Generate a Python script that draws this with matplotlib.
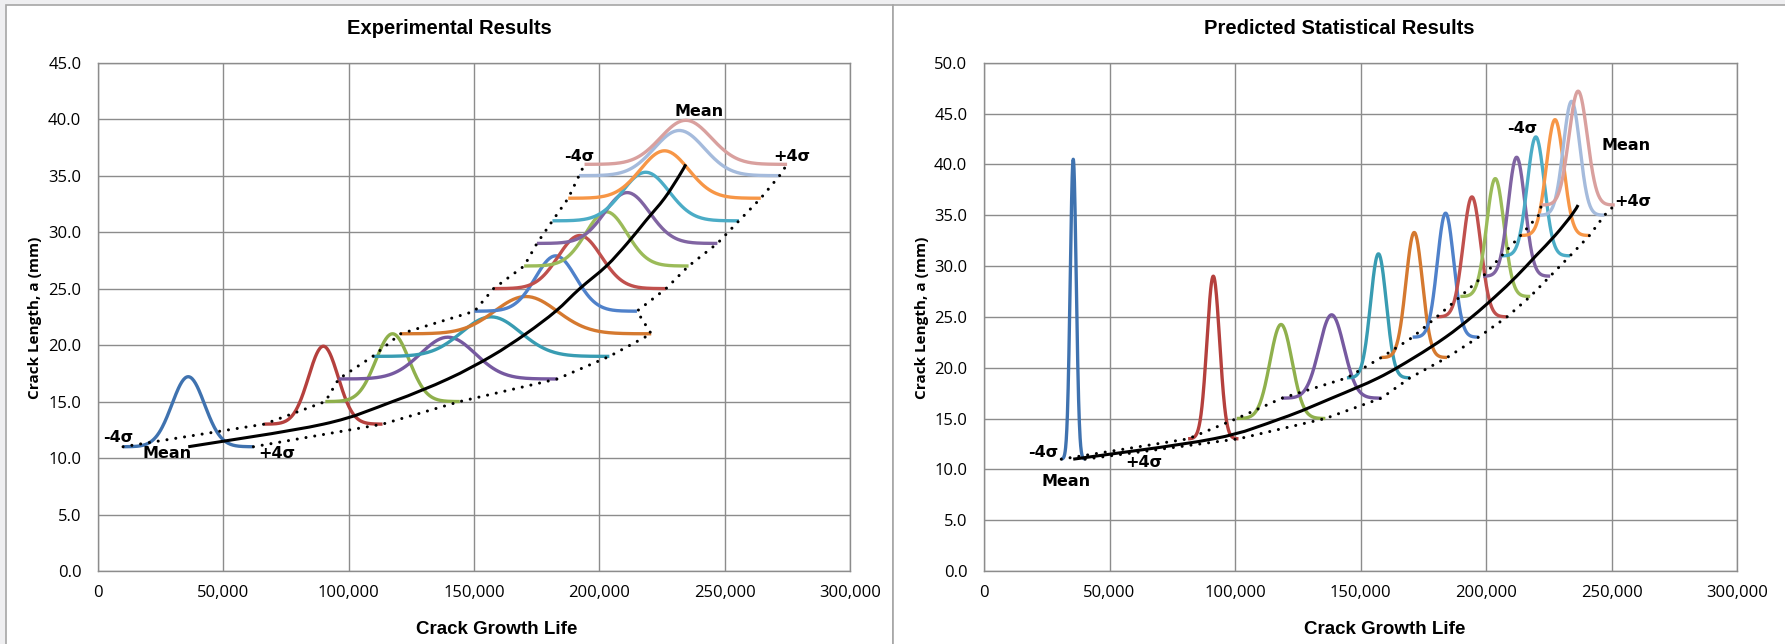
import numpy as np
import matplotlib.pyplot as plt
from matplotlib.patches import Rectangle, PathPatch
from matplotlib.path import Path
from matplotlib.ticker import FuncFormatter, MultipleLocator

plt.rcParams['font.family'] = ['Open Sans', 'DejaVu Sans']

# crack length at which each distribution sits (mm)
crack_len = [11, 13, 15, 17, 19, 21, 23, 25, 27, 29, 31, 33, 35, 36]

curve_colors = ['#3F72AF', '#B5403D', '#8FB04C', '#7659A0', '#389CB2', '#D5792F',
                '#4F81CA', '#C0504D', '#9BBB59', '#8064A2', '#4BACC6', '#F79646',
                '#A5BBDC', '#D9A09E']

# experimental results: mean life, std dev (cycles) and peak height (mm)
exp_mean = [36000, 89900, 117500, 139600, 156800, 170700, 182600, 192200,
            202800, 211100, 218500, 226000, 231900, 234500]
exp_sd = [6500, 5900, 6700, 10900, 11800, 12500, 8100, 8600,
          8200, 9000, 9300, 9600, 10000, 10100]
exp_peak = [6.2, 6.9, 6.0, 3.7, 3.5, 3.3, 4.9, 4.7, 4.8, 4.5, 4.3, 4.2, 4.0, 3.9]

# predicted statistical results
pred_mean = [35550, 91350, 118350, 138500, 157150, 171400, 183900, 194400,
             203700, 212200, 219850, 227500, 234100, 236700]
pred_sd = [1190, 2510, 4410, 4950, 3140, 3280, 3280, 3500,
           3480, 3340, 3410, 3430, 3280, 3650]
pred_peak = [29.5, 16.0, 9.25, 8.2, 12.2, 12.3, 12.2, 11.8, 11.6, 11.7, 11.7, 11.4, 11.2, 11.2]

W, H = 1785, 644
fig = plt.figure(figsize=(W / 100, H / 100), dpi=100, facecolor='#EFEFF1')

# chart area frames
for x0, x1 in [(6, 893), (893, 1792)]:
    fig.patches.append(Rectangle((x0 / W, -0.02), (x1 - x0) / W, 1.02 - 5 / H,
                                 transform=fig.transFigure, facecolor='white',
                                 edgecolor='#A6A6A6', lw=1.2, zorder=-5))

ax1 = fig.add_axes([98 / W, 1 - 571 / H, (850 - 98) / W, (571 - 62.7) / H], zorder=2)
ax2 = fig.add_axes([984 / W, 1 - 571 / H, (1737 - 984) / W, (571 - 62.7) / H], zorder=2)

note_kw = dict(ha='center', va='center', fontsize=11.5, fontweight='bold',
               family=['DejaVu Sans'], zorder=6)
dot_kw = dict(color='black', lw=2.2, ls=(0, (0.01, 2.9)), dash_capstyle='round', zorder=4)


def smooth_path(xs, ys):
    # Excel-style smoothed line: Catmull-Rom through the points as Bezier segments
    p = np.column_stack([xs, ys]).astype(float)
    ext = np.vstack([p[0], p, p[-1]])
    verts = [p[0]]
    codes = [Path.MOVETO]
    for i in range(1, len(ext) - 2):
        c1 = ext[i] + (ext[i + 1] - ext[i - 1]) / 6
        c2 = ext[i + 1] - (ext[i + 2] - ext[i]) / 6
        verts += [c1, c2, ext[i + 1]]
        codes += [Path.CURVE4] * 3
    return Path(verts, codes)


def draw_panel(ax, means, sds, peaks, ymax):
    lo_pts, hi_pts = [], []
    for a, mu, sd, h, c in zip(crack_len, means, sds, peaks, curve_colors):
        x = np.linspace(mu - 4 * sd, mu + 4 * sd, 161)
        y = a + h * np.exp(-0.5 * ((x - mu) / sd) ** 2)
        ax.plot(x, y, color=c, lw=2.4, solid_capstyle='butt', zorder=3)
        lo_pts.append(mu - 4 * sd)
        hi_pts.append(mu + 4 * sd)
    ax.plot(lo_pts, crack_len, **dot_kw)
    ax.plot(hi_pts, crack_len, **dot_kw)
    ax.add_patch(PathPatch(smooth_path(means, crack_len), fill=False,
                           edgecolor='black', lw=2.2, zorder=5))

    ax.set_xlim(0, 300000)
    ax.set_ylim(0, ymax)
    ax.xaxis.set_major_locator(MultipleLocator(50000))
    ax.yaxis.set_major_locator(MultipleLocator(5))
    ax.xaxis.set_major_formatter(FuncFormatter(lambda v, p: f"{v:,.0f}"))
    ax.yaxis.set_major_formatter(FuncFormatter(lambda v, p: f"{v:.1f}"))
    ax.tick_params(length=0, labelsize=12, colors='black')
    ax.tick_params(axis='y', pad=12)
    ax.tick_params(axis='x', pad=10)
    ax.grid(True, color='#8C8C8C', lw=1.0)
    ax.set_axisbelow(True)
    for s in ax.spines.values():
        s.set_color('#8C8C8C')
        s.set_linewidth(1.0)


draw_panel(ax1, exp_mean, exp_sd, exp_peak, 45)
draw_panel(ax2, pred_mean, pred_sd, pred_peak, 50)

ax1.text(8000, 11.8, '-4σ', **note_kw)
ax1.text(27500, 10.4, 'Mean', **note_kw)
ax1.text(71400, 10.4, '+4σ', **note_kw)
ax1.text(191800, 36.7, '-4σ', **note_kw)
ax1.text(239800, 40.7, 'Mean', **note_kw)
ax1.text(276900, 36.7, '+4σ', **note_kw)

ax2.text(23500, 11.7, '-4σ', **note_kw)
ax2.text(32600, 8.8, 'Mean', **note_kw)
ax2.text(63800, 10.7, '+4σ', **note_kw)
ax2.text(214600, 43.5, '-4σ', **note_kw)
ax2.text(255800, 41.9, 'Mean', **note_kw)
ax2.text(258500, 36.3, '+4σ', **note_kw)

title_fam = ['Liberation Sans Narrow', 'Liberation Sans', 'DejaVu Sans']
for cx, t in [(449.5, 'Experimental Results'), (1339, 'Predicted Statistical Results')]:
    fig.text(cx / W, 1 - 28.5 / H, t, ha='center', va='center', fontsize=14.5,
             fontweight='bold', family=title_fam)
for cx in [497, 1385]:
    fig.text(cx / W, 1 - 630 / H, 'Crack Growth Life', ha='center', va='center',
             fontsize=13.5, fontweight='bold', family=title_fam)
for cx in [35, 922]:
    fig.text(cx / W, 1 - 318 / H, 'Crack Length, a (mm)', ha='center', va='center',
             rotation=90, fontsize=11, fontweight='bold')

fig.savefig('out.png', dpi=100, facecolor=fig.get_facecolor())
